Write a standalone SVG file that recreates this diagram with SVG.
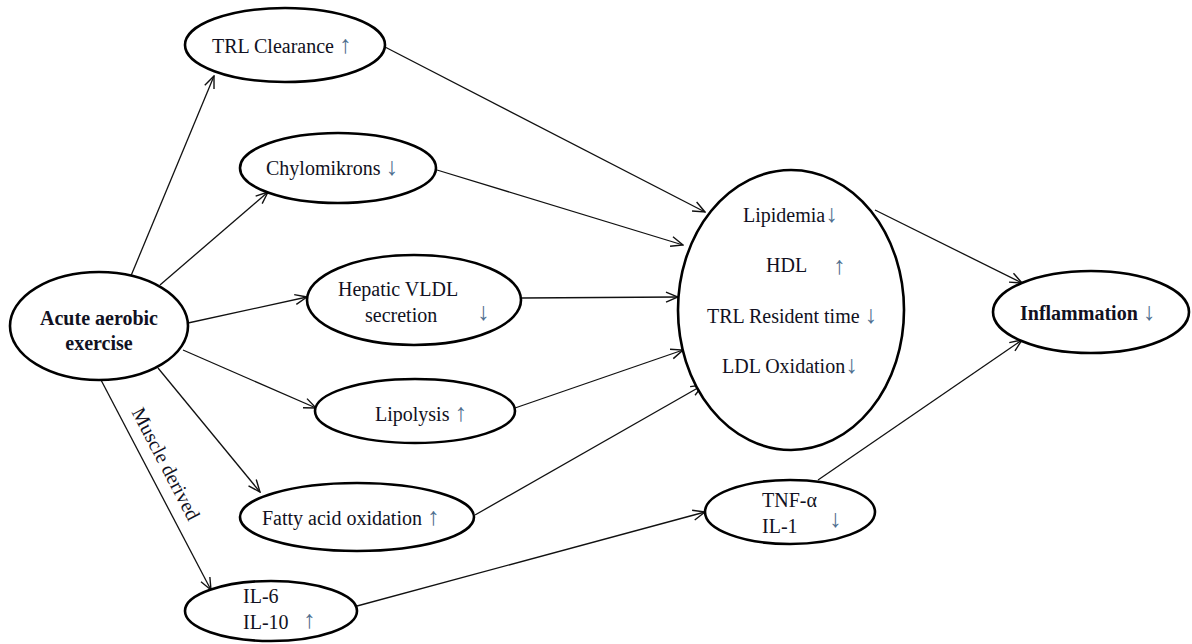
<svg xmlns="http://www.w3.org/2000/svg" width="1192" height="644" viewBox="0 0 1192 644">
<style>
.n{fill:#fff;stroke:#000;stroke-width:2.6}
.t{font-family:"Liberation Serif","Times New Roman",serif;font-size:20px;fill:#111122}
.b{font-weight:bold}
.a{fill:#4f6f8f;font-size:25px;font-weight:normal}
.c{stroke:#111;stroke-width:1.3;fill:none;marker-end:url(#h)}
</style>
<defs>
<marker id="h" markerUnits="userSpaceOnUse" markerWidth="14" markerHeight="12" refX="13" refY="6" orient="auto">
<path d="M1,1 L13,6 L1,11" fill="none" stroke="#111" stroke-width="1.4"/>
</marker>
</defs>
<rect width="1192" height="644" fill="#fff"/>
<g id="connectors">
<line class="c" x1="128" y1="283" x2="214" y2="76"/>
<line class="c" x1="160" y1="285" x2="268" y2="192"/>
<line class="c" x1="188" y1="323" x2="307" y2="297"/>
<line class="c" x1="183" y1="350" x2="316" y2="408"/>
<line class="c" x1="158" y1="368" x2="260" y2="492"/>
<line class="c" x1="101" y1="380" x2="211" y2="590"/>
<line class="c" x1="385" y1="47" x2="705" y2="212"/>
<line class="c" x1="437" y1="170" x2="683" y2="245"/>
<line class="c" x1="522" y1="298" x2="678" y2="297"/>
<line class="c" x1="515" y1="408" x2="683" y2="350"/>
<line class="c" x1="475" y1="515" x2="703" y2="385"/>
<line class="c" x1="357" y1="606" x2="705" y2="512"/>
<line class="c" x1="875" y1="210" x2="1022" y2="283"/>
<line class="c" x1="818" y1="480" x2="1022" y2="340"/>
<text class="t" x="160" y="467" text-anchor="middle" transform="rotate(62.4 160 467)">Muscle derived</text>
</g>
<g id="acute">
<ellipse class="n" cx="99" cy="326" rx="89" ry="54"/>
<text class="t b" x="99" y="325" text-anchor="middle">Acute aerobic</text>
<text class="t b" x="99" y="350" text-anchor="middle">exercise</text>
</g>
<g id="trl-clearance">
<ellipse class="n" cx="285" cy="45" rx="100" ry="37"/>
<text class="t" x="212" y="53">TRL Clearance <tspan class="a">↑</tspan></text>
</g>
<g id="chylomikrons">
<ellipse class="n" cx="338" cy="168" rx="98" ry="35"/>
<text class="t" x="266" y="175">Chylomikrons <tspan class="a">↓</tspan></text>
</g>
<g id="hepatic">
<ellipse class="n" cx="414" cy="300" rx="107" ry="45"/>
<text class="t" x="338" y="296">Hepatic VLDL</text>
<text class="t" x="365" y="322">secretion</text>
<text class="t a" x="477" y="320">↓</text>
</g>
<g id="lipolysis">
<ellipse class="n" cx="415" cy="411" rx="100" ry="32"/>
<text class="t" x="375" y="421">Lipolysis <tspan class="a">↑</tspan></text>
</g>
<g id="fatty">
<ellipse class="n" cx="357" cy="517" rx="117" ry="34"/>
<text class="t" x="262" y="525">Fatty acid oxidation <tspan class="a">↑</tspan></text>
</g>
<g id="il6">
<ellipse class="n" cx="271" cy="611" rx="86" ry="30"/>
<text class="t" x="243" y="603">IL-6</text>
<text class="t" x="243" y="629">IL-10</text>
<text class="t a" x="303" y="628">↑</text>
</g>
<g id="lipids">
<ellipse class="n" cx="791" cy="310" rx="113" ry="140"/>
<text class="t" x="743" y="222">Lipidemia<tspan class="a">↓</tspan></text>
<text class="t" x="766" y="272">HDL</text>
<text class="t a" x="833" y="274">↑</text>
<text class="t" x="707" y="323">TRL Resident time <tspan class="a">↓</tspan></text>
<text class="t" x="722" y="373">LDL Oxidation<tspan class="a">↓</tspan></text>
</g>
<g id="tnf">
<ellipse class="n" cx="790" cy="512" rx="85" ry="32"/>
<text class="t" x="762" y="507">TNF-α</text>
<text class="t" x="762" y="533">IL-1</text>
<text class="t a" x="829" y="527">↓</text>
</g>
<g id="inflammation">
<ellipse class="n" cx="1091" cy="312" rx="98" ry="41"/>
<text class="t b" x="1020" y="320">Inflammation <tspan class="a">↓</tspan></text>
</g>
</svg>
